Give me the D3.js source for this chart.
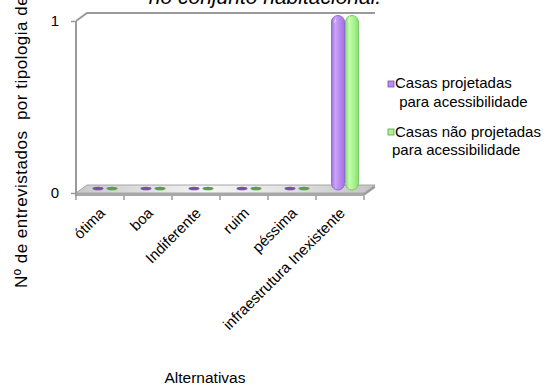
<!DOCTYPE html>
<html>
<head>
<meta charset="utf-8">
<script src="https://cdn.jsdelivr.net/npm/d3@7"></script>
<style>
  html, body { margin: 0; padding: 0; background: #fff; }
  svg { display: block; font-family: "Liberation Sans", Arial, sans-serif; }
</style>
</head>
<body>
<svg id="chart" width="550" height="390"></svg>
<script>
// Categories (response alternatives) and the two series of respondents
const categories = ["ótima", "boa", "Indiferente", "ruim", "péssima", "infraestrutura Inexistente"];
const casasProjetadas = [0, 0, 0, 0, 0, 1];
const casasNaoProjetadas = [0, 0, 0, 0, 0, 1];
const seriesKeys = ["projetadas", "naoProjetadas"];
const legendLines = [
  ["Casas projetadas", " para acessibilidade"],
  ["Casas não projetadas", "para acessibilidade"]
];
const yTickValues = [0, 1];
const titleText = "no conjunto habitacional.";
const yTitleText = "Nº de entrevistados  por tipologia de";
const xTitleText = "Alternativas";

(function draw() {
  const svg = d3.select("#chart");
  const defs = svg.append("defs");

  // front plane of the 3-D plot area
  const plotLeft = 76, plotRight = 364, plotBottom = 193, plotTop = 21;
  // depth vector of the 3-D box; the bars sit half way in
  const depthX = 11, depthY = -8;
  const midX = depthX / 2 + 0.5, midY = depthY / 2;

  const x = d3.scaleBand().domain(categories).range([plotLeft, plotRight]).padding(0);
  const sub = d3.scaleBand().domain(seriesKeys).range([9, 37]).padding(0);
  const y = d3.scaleLinear().domain([0, 1]).range([plotBottom, plotTop]);

  const colors = {
    projetadas: { light: "#cba6f8", mid: "#b98bf2", dark: "#9f74e0", edge: "#956bd3", flat: "#7352a8" },
    naoProjetadas: { light: "#c4fcad", mid: "#a9f690", dark: "#8cde74", edge: "#7ec866", flat: "#5c9c4e" }
  };

  // cylinder shading
  seriesKeys.forEach(k => {
    const g = defs.append("linearGradient").attr("id", "grad-" + k)
      .attr("x1", "0%").attr("x2", "100%").attr("y1", "0%").attr("y2", "0%");
    g.append("stop").attr("offset", "0%").attr("stop-color", colors[k].dark);
    g.append("stop").attr("offset", "30%").attr("stop-color", colors[k].light);
    g.append("stop").attr("offset", "60%").attr("stop-color", colors[k].mid);
    g.append("stop").attr("offset", "100%").attr("stop-color", colors[k].dark);
  });

  // floor shading
  const fg = defs.append("linearGradient").attr("id", "floorGrad")
    .attr("x1", "0%").attr("x2", "100%").attr("y1", "0%").attr("y2", "0%");
  fg.append("stop").attr("offset", "0%").attr("stop-color", "#c8c8c8");
  fg.append("stop").attr("offset", "45%").attr("stop-color", "#f6f6f6");
  fg.append("stop").attr("offset", "70%").attr("stop-color", "#e2e2e2");
  fg.append("stop").attr("offset", "100%").attr("stop-color", "#c4c4c4");

  // title (only its last line falls inside the canvas)
  svg.append("text")
    .attr("x", 265).attr("y", 4)
    .attr("text-anchor", "middle")
    .attr("font-size", 21).attr("font-style", "italic")
    .attr("fill", "#000")
    .text(titleText);

  // top edges of the side wall and back wall
  const wallColor = "#9a9a9a";
  svg.append("path")
    .attr("d", `M${plotLeft},${y(1)} L${plotLeft + depthX},${y(1) + depthY} L${plotRight + depthX},${y(1) + depthY}`)
    .attr("fill", "none").attr("stroke", wallColor).attr("stroke-width", 2);

  // floor slab
  const floorTop = [
    [plotLeft, plotBottom], [plotRight, plotBottom],
    [plotRight + depthX, plotBottom + depthY], [plotLeft + depthX, plotBottom + depthY]
  ];
  const slab = 3;
  svg.append("path")
    .attr("d", `M${plotLeft},${plotBottom} L${plotRight},${plotBottom} L${plotRight},${plotBottom + slab} L${plotLeft},${plotBottom + slab}Z`)
    .attr("fill", "#a8a8a8");
  svg.append("path")
    .attr("d", `M${plotRight},${plotBottom} L${plotRight + depthX},${plotBottom + depthY} L${plotRight + depthX},${plotBottom + depthY + slab} L${plotRight},${plotBottom + slab}Z`)
    .attr("fill", "#9c9c9c");
  svg.append("path")
    .attr("d", "M" + floorTop.map(p => p.join(",")).join("L") + "Z")
    .attr("fill", "url(#floorGrad)").attr("stroke", "#a6a6a6").attr("stroke-width", 1);

  // y axis line and ticks
  svg.append("line")
    .attr("x1", plotLeft).attr("x2", plotLeft).attr("y1", y(1)).attr("y2", plotBottom + slab)
    .attr("stroke", wallColor).attr("stroke-width", 2);
  const yAxis = d3.axisLeft(y).tickValues(yTickValues).tickFormat(d3.format("d"))
    .tickSizeInner(4).tickSizeOuter(0).tickPadding(12);
  const yAxisG = svg.append("g").attr("transform", `translate(${plotLeft - 1},0)`).call(yAxis);
  yAxisG.select(".domain").remove();
  yAxisG.selectAll(".tick line").attr("stroke", wallColor).attr("stroke-width", 1.5);
  yAxisG.selectAll(".tick text").attr("font-size", 15).attr("fill", "#000")
    .attr("font-family", "'Liberation Sans', Arial, sans-serif");

  // x axis tick marks at the category boundaries, under the floor
  const boundaries = categories.map(c => x(c)).concat([plotRight]);
  svg.append("g").selectAll("line").data(boundaries).join("line")
    .attr("x1", d => d).attr("x2", d => d)
    .attr("y1", plotBottom + slab).attr("y2", plotBottom + slab + 4)
    .attr("stroke", wallColor).attr("stroke-width", 1.5);

  // bars
  const rows = categories.map((c, i) => ({
    cat: c,
    values: [
      { key: "projetadas", value: casasProjetadas[i] },
      { key: "naoProjetadas", value: casasNaoProjetadas[i] }
    ]
  }));
  const barW = sub.bandwidth();
  const groups = svg.append("g").selectAll("g").data(rows).join("g")
    .attr("transform", d => `translate(${x(d.cat) + midX},${midY})`);

  groups.each(function (row) {
    const g = d3.select(this);
    row.values.forEach(v => {
      const bx = sub(v.key);
      if (v.value > 0) {
        const yTop = y(v.value) - 1.5;
        const yBot = y(0) + 1;
        g.append("rect")
          .attr("x", bx + 0.5).attr("y", yTop)
          .attr("width", barW - 1).attr("height", yBot - yTop)
          .attr("rx", (barW - 1) / 2).attr("ry", (barW - 1) / 2)
          .attr("fill", `url(#grad-${v.key})`)
          .attr("stroke", colors[v.key].edge).attr("stroke-width", 1);
        // small specular glint near the top of the cylinder
        g.append("line")
          .attr("x1", bx + 3.5).attr("y1", yTop + 7)
          .attr("x2", bx + 4.5).attr("y2", yTop + 4)
          .attr("stroke", "#ffffff").attr("stroke-opacity", 0.8).attr("stroke-width", 1);
      } else {
        // a zero value shows as a flat disc lying on the floor
        g.append("ellipse")
          .attr("cx", bx + barW / 2).attr("cy", y(0) - 0.5)
          .attr("rx", barW / 2 - 1.5).attr("ry", 1.8)
          .attr("fill", colors[v.key].flat);
      }
    });
  });

  // category labels, rotated
  svg.append("g").selectAll("text").data(categories).join("text")
    .attr("transform", d => `translate(${x(d) + x.bandwidth() / 2 + 6},${plotBottom + 21}) rotate(-45)`)
    .attr("text-anchor", "end")
    .attr("font-size", 15)
    .attr("fill", "#000")
    .text(d => d);

  // axis titles
  svg.append("text")
    .attr("transform", `translate(27,288) rotate(-90)`)
    .attr("text-anchor", "start")
    .attr("font-size", 17)
    .attr("letter-spacing", 0.5)
    .attr("fill", "#000")
    .style("white-space", "pre")
    .text(yTitleText);

  svg.append("text")
    .attr("x", 205).attr("y", 383)
    .attr("text-anchor", "middle")
    .attr("font-size", 15.5)
    .attr("fill", "#000")
    .text(xTitleText);

  // legend
  const legend = svg.append("g");
  const legendItems = [
    { key: "projetadas", sq: [388, 81], lines: [[395, 88], [395, 107]] },
    { key: "naoProjetadas", sq: [388, 129], lines: [[395, 137], [392, 155]] }
  ];
  legendItems.forEach((it, i) => {
    legend.append("rect")
      .attr("x", it.sq[0]).attr("y", it.sq[1]).attr("width", 6).attr("height", 6)
      .attr("fill", colors[it.key].mid).attr("stroke", colors[it.key].flat).attr("stroke-width", 0.8);
    legendLines[i].forEach((t, j) => {
      legend.append("text")
        .attr("x", it.lines[j][0]).attr("y", it.lines[j][1])
        .attr("font-size", 15)
        .attr("fill", "#000")
        .style("white-space", "pre")
        .text(t);
    });
  });
})();
</script>
</body>
</html>
